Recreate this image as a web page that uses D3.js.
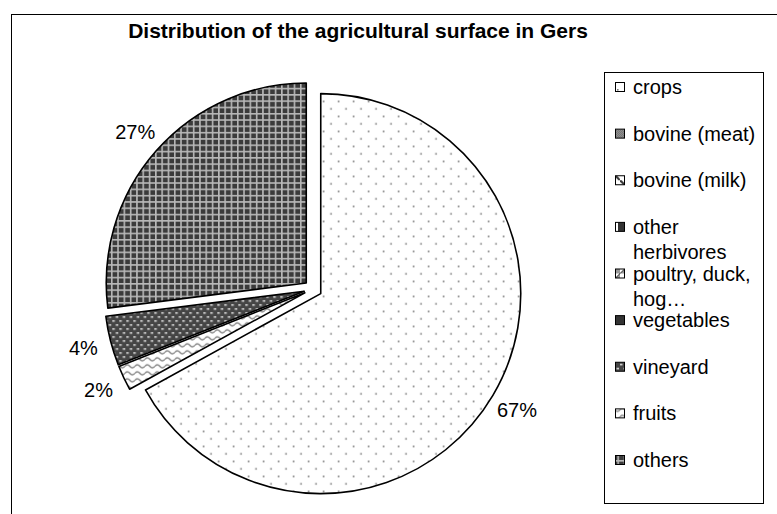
<!DOCTYPE html>
<html>
<head>
<meta charset="utf-8">
<script src="https://cdn.jsdelivr.net/npm/d3@7"></script>
<style>
  body { margin: 0; background: #fff; }
  text { font-family: "Liberation Sans", Arial, sans-serif; fill: #000; }
</style>
</head>
<body>
<div id="chart"></div>
<script>
var width = 777;
var height = 514;

// data
var categories = ['crops', 'bovine (meat)', 'bovine (milk)', 'other herbivores', 'poultry, duck, hog…',
                  'vegetables', 'vineyard', 'fruits', 'others'];
var legendLines = [['crops'], ['bovine (meat)'], ['bovine (milk)'], ['other', 'herbivores'],
                   ['poultry, duck,', 'hog…'], ['vegetables'], ['vineyard'], ['fruits'], ['others']];
var values = [67, 0, 0, 0, 0, 0, 4, 2, 27];
// order of the slices going round the pie (as in the picture)
var sliceOrder = ['crops', 'fruits', 'vineyard', 'others', 'bovine (meat)', 'bovine (milk)',
                  'other herbivores', 'poultry, duck, hog…', 'vegetables'];
var title = 'Distribution of the agricultural surface in Gers';

var radius = 200;
var cx = 313, cy = 289;
var explode = 9;

var svg = d3.select('#chart').append('svg')
    .attr('width', width)
    .attr('height', height);

// fill patterns
var defs = svg.append('defs');
function pattern(id, w, h) {
    return defs.append('pattern').attr('id', id)
        .attr('patternUnits', 'userSpaceOnUse')
        .attr('width', w).attr('height', h);
}
var p;
// crops: staggered grey dots
p = pattern('p0', 15, 15);
p.append('rect').attr('width', 15).attr('height', 15).attr('fill', '#fff');
p.append('rect').attr('x', 2).attr('y', 2).attr('width', 1.6).attr('height', 1.6).attr('fill', '#777');
p.append('rect').attr('x', 9.5).attr('y', 9.5).attr('width', 1.6).attr('height', 1.6).attr('fill', '#777');
// bovine (meat)
p = pattern('p1', 2, 2);
p.append('rect').attr('width', 2).attr('height', 2).attr('fill', '#b0b0b0');
p.append('rect').attr('width', 1).attr('height', 1).attr('fill', '#555');
p.append('rect').attr('x', 1).attr('y', 1).attr('width', 1).attr('height', 1).attr('fill', '#555');
// bovine (milk)
p = pattern('p2', 10, 10);
p.append('rect').attr('width', 10).attr('height', 10).attr('fill', '#fff');
p.append('path').attr('d', 'M-2,-2L12,12').attr('stroke', '#333').attr('stroke-width', 2.2);
// other herbivores
p = pattern('p3', 9, 9);
p.append('rect').attr('width', 9).attr('height', 9).attr('fill', '#333');
p.append('rect').attr('x', 3).attr('width', 3).attr('height', 9).attr('fill', '#fff');
// poultry
p = pattern('p4', 10, 10);
p.append('rect').attr('width', 10).attr('height', 10).attr('fill', '#fff');
p.append('path').attr('d', 'M0,10L10,0L10,10Z').attr('fill', '#999');
p.append('path').attr('d', 'M0,10L10,0').attr('stroke', '#333').attr('stroke-width', 1);
// vegetables
p = pattern('p5', 4, 4);
p.append('rect').attr('width', 4).attr('height', 4).attr('fill', '#333');
// vineyard: dark with light dashes
p = pattern('p6', 7, 8);
p.append('rect').attr('width', 7).attr('height', 8).attr('fill', '#454545');
p.append('rect').attr('x', 0.5).attr('y', 1).attr('width', 2.5).attr('height', 1.5).attr('fill', '#e0e0e0');
p.append('rect').attr('x', 4).attr('y', 5).attr('width', 2.5).attr('height', 1.5).attr('fill', '#e0e0e0');
// fruits: grey waves
p = pattern('p7', 10, 7);
p.append('rect').attr('width', 10).attr('height', 7).attr('fill', '#fff');
p.append('path').attr('d', 'M0,3.5Q2.5,0.5 5,3.5T10,3.5').attr('fill', 'none')
    .attr('stroke', '#888').attr('stroke-width', 1.5);
// others: dark with light grid
p = pattern('p8', 6.3, 6.3);
p.append('rect').attr('width', 6.3).attr('height', 6.3).attr('fill', '#3b3b3b');
p.append('rect').attr('width', 1.6).attr('height', 6.3).attr('fill', '#b8b8b8');
p.append('rect').attr('width', 6.3).attr('height', 1.6).attr('fill', '#b8b8b8');

function fillOf(name) {
    return 'url(#p' + categories.indexOf(name) + ')';
}

// chart frame
svg.append('rect')
    .attr('x', 11.5).attr('y', 14.5)
    .attr('width', 900).attr('height', 600)
    .attr('fill', 'none').attr('stroke', '#000').attr('stroke-width', 1);

// title
svg.append('text')
    .attr('x', 358).attr('y', 38)
    .attr('text-anchor', 'middle')
    .attr('font-size', 21).attr('font-weight', 'bold')
    .text(title);

// pie
var data = categories.map(function(c, i) { return {name: c, value: values[i]}; });
var pie = d3.pie()
    .value(function(d) { return d.value; })
    .sort(function(a, b) { return sliceOrder.indexOf(a.name) - sliceOrder.indexOf(b.name); });
var arc = d3.arc().innerRadius(0).outerRadius(radius);
var labelArc = d3.arc().innerRadius(228).outerRadius(228);

var slices = pie(data).filter(function(d) { return d.value > 0; });

var g = svg.append('g').attr('transform', 'translate(' + cx + ',' + cy + ')');
var sg = g.selectAll('g.slice')
    .data(slices)
    .enter()
    .append('g')
    .attr('class', 'slice')
    .attr('transform', function(d) {
        var mid = (d.startAngle + d.endAngle) / 2;
        return 'translate(' + (Math.sin(mid) * explode) + ',' + (-Math.cos(mid) * explode) + ')';
    });

sg.append('path')
    .attr('d', arc)
    .attr('fill', function(d) { return fillOf(d.data.name); })
    .attr('stroke', '#000')
    .attr('stroke-width', 1.6)
    .attr('stroke-linejoin', 'round');

sg.append('text')
    .attr('transform', function(d) { return 'translate(' + labelArc.centroid(d) + ')'; })
    .attr('text-anchor', 'middle')
    .attr('dy', '0.35em')
    .attr('font-size', 20)
    .text(function(d) { return d.value + '%'; });

// legend
svg.append('rect')
    .attr('x', 604.5).attr('y', 72.5)
    .attr('width', 159).attr('height', 431)
    .attr('fill', '#fff').attr('stroke', '#000').attr('stroke-width', 1);

var rowY = d3.scalePoint().domain(categories).range([87, 460]);

var lg = svg.selectAll('g.legend')
    .data(categories)
    .enter()
    .append('g')
    .attr('class', 'legend')
    .attr('transform', function(d) { return 'translate(0,' + rowY(d) + ')'; });

lg.append('rect')
    .attr('x', 615.5).attr('y', -4.5)
    .attr('width', 9).attr('height', 9)
    .attr('fill', function(d) { return fillOf(d); })
    .attr('stroke', '#000').attr('stroke-width', 1);

lg.append('text')
    .attr('x', 633)
    .attr('font-size', 20)
    .selectAll('tspan')
    .data(function(d, i) { return legendLines[i]; })
    .enter()
    .append('tspan')
    .attr('x', 633)
    .attr('y', function(d, i) { return 7 + i * 25; })
    .text(function(d) { return d; });
</script>
</body>
</html>
